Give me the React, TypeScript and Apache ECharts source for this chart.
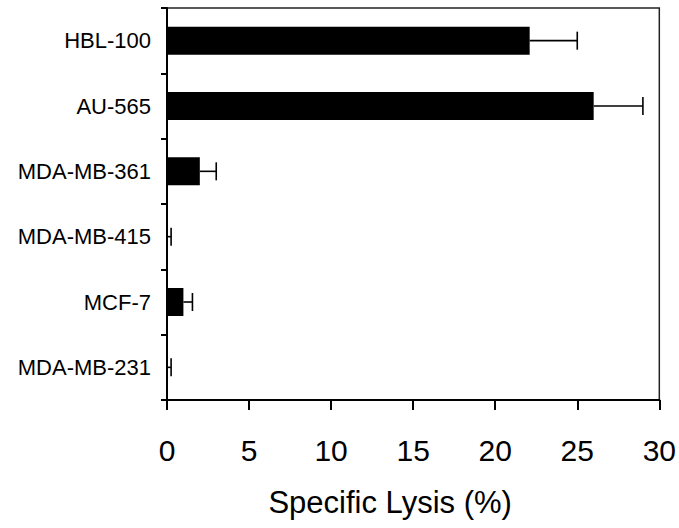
import React, { useEffect, useRef } from "react";
import * as echarts from "echarts";

const categories = ["HBL-100", "AU-565", "MDA-MB-361", "MDA-MB-415", "MCF-7", "MDA-MB-231"];
const lysisValues = [22.1, 26.0, 2.0, 0.0, 1.0, 0.0];
const lysisErrors = [2.9, 3.0, 1.0, 0.25, 0.55, 0.25];
const xTicks = [0, 5, 10, 15, 20, 25, 30];

const FONT = "'Liberation Sans', Arial, Helvetica, sans-serif";

export default function App() {
  const ref = useRef<HTMLDivElement>(null);

  useEffect(() => {
    if (!ref.current) return;
    const chart = echarts.init(ref.current, null, { renderer: "svg" });
    const errData = categories.map((_, i) => [i, lysisValues[i], lysisValues[i] + lysisErrors[i]]);
    chart.setOption({
      animation: false,
      backgroundColor: "#ffffff",
      grid: {
        left: 167,
        right: 19,
        top: 8,
        bottom: 128,
        show: true,
        borderColor: "#222",
        borderWidth: 1.5,
        backgroundColor: "transparent",
      },
      xAxis: {
        type: "value",
        min: xTicks[0],
        max: xTicks[xTicks.length - 1],
        interval: 5,
        name: "Specific Lysis (%)",
        nameLocation: "middle",
        nameGap: 87,
        nameTextStyle: {
          fontFamily: FONT,
          fontSize: 31,
          color: "#000",
          padding: [0, 46, 0, 0],
        },
        axisLine: { show: true, lineStyle: { color: "#000", width: 2 } },
        axisTick: { show: true, length: 10, lineStyle: { color: "#000", width: 2 } },
        axisLabel: {
          fontFamily: FONT,
          fontSize: 30,
          color: "#000",
          margin: 35,
          formatter: (v: number) => (xTicks.includes(v) ? String(v) : ""),
        },
        splitLine: { show: false },
      },
      yAxis: {
        type: "category",
        data: categories,
        inverse: true,
        axisLine: { show: true, lineStyle: { color: "#000", width: 2 } },
        axisTick: { show: true, length: 6, lineStyle: { color: "#000", width: 2 } },
        axisLabel: { fontFamily: FONT, fontSize: 22, color: "#000", margin: 16 },
        splitLine: { show: false },
      },
      series: [
        {
          type: "bar",
          data: lysisValues,
          barWidth: 28,
          itemStyle: { color: "#000" },
          z: 2,
        },
        {
          type: "custom",
          data: errData,
          encode: { x: [1, 2], y: 0 },
          z: 3,
          renderItem: (params: any, api: any) => {
            const idx = api.value(0);
            const low = api.coord([api.value(1), idx]);
            const high = api.coord([api.value(2), idx]);
            const half = 9;
            const style = { stroke: "#000", lineWidth: 1.6, fill: "none" };
            return {
              type: "group",
              children: [
                { type: "line", shape: { x1: low[0], y1: low[1], x2: high[0], y2: high[1] }, style },
                { type: "line", shape: { x1: high[0], y1: high[1] - half, x2: high[0], y2: high[1] + half }, style },
              ],
            };
          },
        },
      ],
    });
    return () => chart.dispose();
  }, []);

  return (
    <div
      ref={ref}
      style={{ position: "fixed", left: 0, top: 0, width: 679, height: 528, background: "#fff" }}
    />
  );
}
